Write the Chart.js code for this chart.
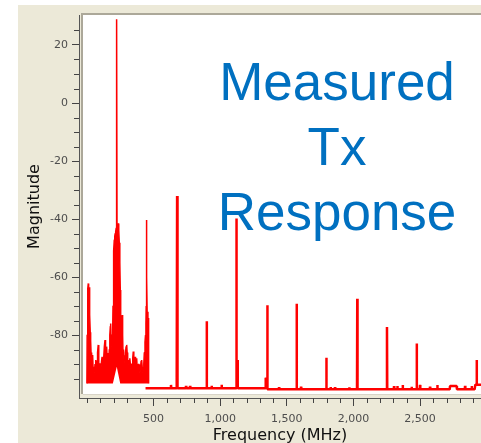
<!DOCTYPE html>
<html>
<head>
<meta charset="utf-8">
<script src="https://cdn.jsdelivr.net/npm/chart.js@4.4.1/dist/chart.umd.min.js"></script>
<style>
  body { margin: 0; background: #fff; }
  #wrap { position: relative; width: 481px; height: 443px; overflow: hidden; }
  #note {
    position: absolute; left: 187px; top: 49px; width: 300px;
    text-align: center; color: #0070C0;
    font-family: "Liberation Sans", Arial, sans-serif;
    font-size: 53px; line-height: 65px; pointer-events: none;
  }
</style>
</head>
<body>
<div id="wrap">
  <canvas id="espectro"></canvas>
  <div id="note">Measured<br>Tx<br>Response</div>
</div>
<script>
// noise/carrier region 0..465 MHz (upper edge of the red block)
var ruido_freq = [0, 2, 5, 8, 10.5, 13, 16, 19, 22, 25, 28, 31, 34, 37, 40, 43, 46, 50, 53, 57,
    61, 65, 68, 72, 76, 80, 85, 89, 93, 97, 101, 105, 110, 114, 118, 122, 126, 131, 136, 140,
    144, 148, 152, 156, 160, 164, 168, 172, 176, 178.5, 181, 185, 189, 193.5, 196, 198, 201, 203, 205.5, 209,
    212, 216, 220, 222, 224, 226, 229, 233, 235.5, 239, 243, 247, 250.5, 253.5, 256, 260, 265.5, 268, 271, 275,
    278.5, 282, 286, 290, 294, 298.5, 302, 306, 310.5, 314, 318, 322, 326, 331, 336, 340, 344, 348, 352, 356,
    361, 365, 369, 373.5, 377, 382, 387, 393, 398, 403, 407, 411, 415, 419, 423, 427, 431, 436, 440, 443,
    445, 447, 449, 452, 458, 461, 463];
var ruido_mag = [-96.7, -80, -70, -64, -62.2, -66, -63.5, -70, -73, -79, -82, -86, -90, -93, -88, -86.9, -91, -92, -90.9, -93,
    -90, -92, -88.6, -91, -89, -86, -83.4, -90, -89.7, -92, -90, -91.5, -89, -87.5, -87.5, -90, -88, -84, -81.7, -86,
    -88, -84, -88, -90, -86.2, -89, -85, -80, -77, -76, -82, -84, -80, -78.3, -70, -59.9, -54, -51, -47.2, -46,
    -45, -44.4, -43, -44, 28.9, -42, -41.5, -41.8, -41.5, -44, -48.2, -55, -64.5, -85.2, -82, -76, -73.1, -80, -87, -85,
    -88.6, -87, -90, -86, -84, -83.4, -86, -89, -88.6, -90, -91, -88, -90, -92, -89.8, -91, -88, -85.7, -88, -90,
    -87.5, -90, -88.5, -88, -91, -92, -90, -90.3, -93, -91, -89, -88.6, -91, -93, -92, -90, -86, -82.4, -80, -76,
    -70, -40.3, -60, -72, -75, -74.1, -96.7];

// bottom of the red block (small notch under the carrier)
var piso_freq = [0, 195, 224, 250, 463];
var piso_mag = [-96.7, -96.7, -90.9, -96.7, -96.7];

// harmonics and floor above 440 MHz
var harm_freq = [440, 463, 629, 631, 633, 672, 674, 677, 679, 681, 742, 744, 746, 772, 774, 776, 897, 899, 901,
    934, 936, 938, 1009, 1011, 1013, 1119, 1122, 1124, 1130, 1132, 1340, 1342, 1352, 1354, 1356, 1440, 1442, 1444,
    1572, 1574, 1576, 1605, 1607, 1609, 1795, 1797, 1799, 1827, 1829, 1831, 1860, 1862, 1864, 1967, 1969, 1971,
    2027, 2029, 2031, 2250, 2252, 2254, 2303, 2305, 2307, 2328, 2330, 2332, 2368, 2370, 2372, 2435, 2437, 2439,
    2473, 2475, 2477, 2498, 2500, 2502, 2573, 2575, 2577, 2628, 2630, 2632, 2723, 2725, 2750, 2775, 2777,
    2836, 2838, 2840, 2886, 2888, 2890, 2910, 2915, 2923, 2925, 2927, 2958];
var harm_mag = [-98.3, -98.3, -98.3, -97.2, -98.3, -98.3, -94.5, -32.1, -96, -98.3, -98.3, -97.5, -98.3, -98.3, -97.5, -98.3, -98.3, -75.2, -98.3,
    -98.3, -97.5, -98.3, -98.3, -97.1, -98.3, -98.3, -39.8, -90, -88.6, -98.3, -98.3, -94.7, -96, -69.7, -98.7, -98.7, -98, -98.7,
    -98.7, -69.2, -98.7, -98.7, -97.8, -98.7, -98.7, -87.8, -98.7, -98.7, -97.9, -98.7, -98.7, -98, -98.7, -98.7, -98, -98.7,
    -98.7, -67.5, -98.7, -98.7, -77.2, -98.7, -98.7, -97.6, -98.7, -98.7, -97.6, -98.7, -98.7, -97.2, -98.7, -98.7, -97.8, -98.7,
    -98.7, -82.9, -98.7, -98.7, -97.2, -98.7, -98.7, -97.8, -98.7, -98.7, -97.2, -98.7, -98.7, -97.6, -97.6, -97.6, -98.7,
    -98.7, -97.5, -98.7, -98.7, -97.6, -98.7, -98.7, -97.1, -97.1, -88.6, -97.1, -97.1];

var x_ticks = [0, 100, 200, 300, 400, 500, 600, 700, 800, 900, 1000, 1100, 1200, 1300, 1400, 1500,
    1600, 1700, 1800, 1900, 2000, 2100, 2200, 2300, 2400, 2500, 2600, 2700, 2800, 2900];
var y_ticks = [-95, -90, -85, -80, -75, -70, -65, -60, -55, -50, -45, -40, -35, -30, -25, -20,
    -15, -10, -5, 0, 5, 10, 15, 20, 25];

function pontos(fs, ms) {
    return fs.map(function (f, i) { return { x: f, y: ms[i] }; });
}

function milhar(v) {
    return String(v).replace(/\B(?=(\d{3})+(?!\d))/g, ',');
}

var eh_major_x = function (v) { return v > 0 && v % 500 === 0; };
var eh_major_y = function (v) { return v % 20 === 0; };

// beige panel, sunken white plot, minor ticks
var painel = {
    id: 'painel',
    beforeDraw: function (chart) {
        var c = chart.ctx;
        c.save();
        c.fillStyle = '#ffffff';
        c.fillRect(0, 0, chart.width, chart.height);
        c.fillStyle = '#ECE9D8';
        c.fillRect(18, 5, chart.width - 18, chart.height - 5);
        c.fillStyle = '#ACA899';
        c.fillRect(81, 13, chart.width - 81, 2);
        c.fillRect(81, 13, 2, 381);
        c.fillStyle = '#ffffff';
        c.fillRect(83, 15, chart.width - 83, 379);
        c.fillStyle = '#D8D4C8';
        c.fillRect(83, 394, chart.width - 83, 1);
        c.restore();
    },
    afterDraw: function (chart) {
        var c = chart.ctx;
        var xs = chart.scales.x, ys = chart.scales.y;
        c.save();
        c.strokeStyle = '#444';
        c.lineWidth = 1;
        c.beginPath();
        x_ticks.forEach(function (v) {
            if (eh_major_x(v)) return;
            var px = Math.round(xs.getPixelForValue(v)) + 0.5;
            c.moveTo(px, xs.top);
            c.lineTo(px, xs.top + 5);
        });
        y_ticks.forEach(function (v) {
            if (eh_major_y(v)) return;
            var py = Math.round(ys.getPixelForValue(v)) + 0.5;
            c.moveTo(ys.right - 5, py);
            c.lineTo(ys.right, py);
        });
        c.stroke();
        c.restore();
    }
};

document.addEventListener("DOMContentLoaded", function () {
    var canvas = document.getElementById('espectro');
    canvas.style.width = '481px';
    canvas.style.height = '443px';
    var ctx = canvas.getContext('2d');

    new Chart(ctx, {
        type: 'line',
        data: {
            datasets: [
                {
                    label: 'piso',
                    data: pontos(piso_freq, piso_mag),
                    borderColor: 'transparent',
                    backgroundColor: 'transparent',
                    fill: false,
                    pointRadius: 0
                },
                {
                    label: 'ruido',
                    data: pontos(ruido_freq, ruido_mag),
                    borderColor: '#FF0000',
                    backgroundColor: '#FF0000',
                    borderWidth: 1.5,
                    borderJoinStyle: 'bevel',
                    fill: 0,
                    pointRadius: 0
                },
                {
                    label: 'harmonicos',
                    data: pontos(harm_freq, harm_mag),
                    borderColor: '#FF0000',
                    borderWidth: 2.5,
                    borderJoinStyle: 'bevel',
                    fill: false,
                    pointRadius: 0
                }
            ]
        },
        options: {
            responsive: false,
            animation: false,
            layout: { padding: { left: 0, right: 0, top: 15, bottom: 0 } },
            plugins: {
                legend: { display: false },
                tooltip: { enabled: false }
            },
            scales: {
                x: {
                    type: 'linear',
                    min: -59.3,
                    max: 2957.6,
                    afterBuildTicks: function (s) { s.ticks = x_ticks.map(function (v) { return { value: v }; }); },
                    afterFit: function (s) { s.height = 45; },
                    grid: {
                        drawOnChartArea: false,
                        tickLength: 8,
                        tickColor: function (c) { return c.tick && eh_major_x(c.tick.value) ? '#444' : 'transparent'; }
                    },
                    border: { display: true, color: '#555', width: 1 },
                    ticks: {
                        autoSkip: false,
                        maxRotation: 0,
                        padding: 7,
                        color: '#4d4d4d',
                        font: { family: 'DejaVu Sans', size: 11 },
                        callback: function (v) { return eh_major_x(v) ? milhar(v) : ''; }
                    },
                    title: {
                        display: true,
                        text: 'Frequency (MHz)',
                        color: '#111',
                        padding: { top: 0, bottom: -2 },
                        font: { family: 'DejaVu Sans', size: 16 }
                    }
                },
                y: {
                    min: -101.7,
                    max: 30.34,
                    afterBuildTicks: function (s) { s.ticks = y_ticks.map(function (v) { return { value: v }; }); },
                    afterFit: function (s) { s.width = 79; },
                    grid: {
                        drawOnChartArea: false,
                        tickLength: 7,
                        tickColor: function (c) { return c.tick && eh_major_y(c.tick.value) ? '#444' : 'transparent'; }
                    },
                    border: { display: true, color: '#555', width: 1 },
                    ticks: {
                        autoSkip: false,
                        padding: 4,
                        color: '#4d4d4d',
                        font: { family: 'DejaVu Sans', size: 11 },
                        callback: function (v) { return eh_major_y(v) ? String(v) : ''; }
                    },
                    title: {
                        display: true,
                        text: 'Magnitude',
                        color: '#111',
                        padding: { top: 25, bottom: 0 },
                        font: { family: 'DejaVu Sans', size: 16 }
                    }
                }
            }
        },
        plugins: [painel]
    });
});
</script>
</body>
</html>
